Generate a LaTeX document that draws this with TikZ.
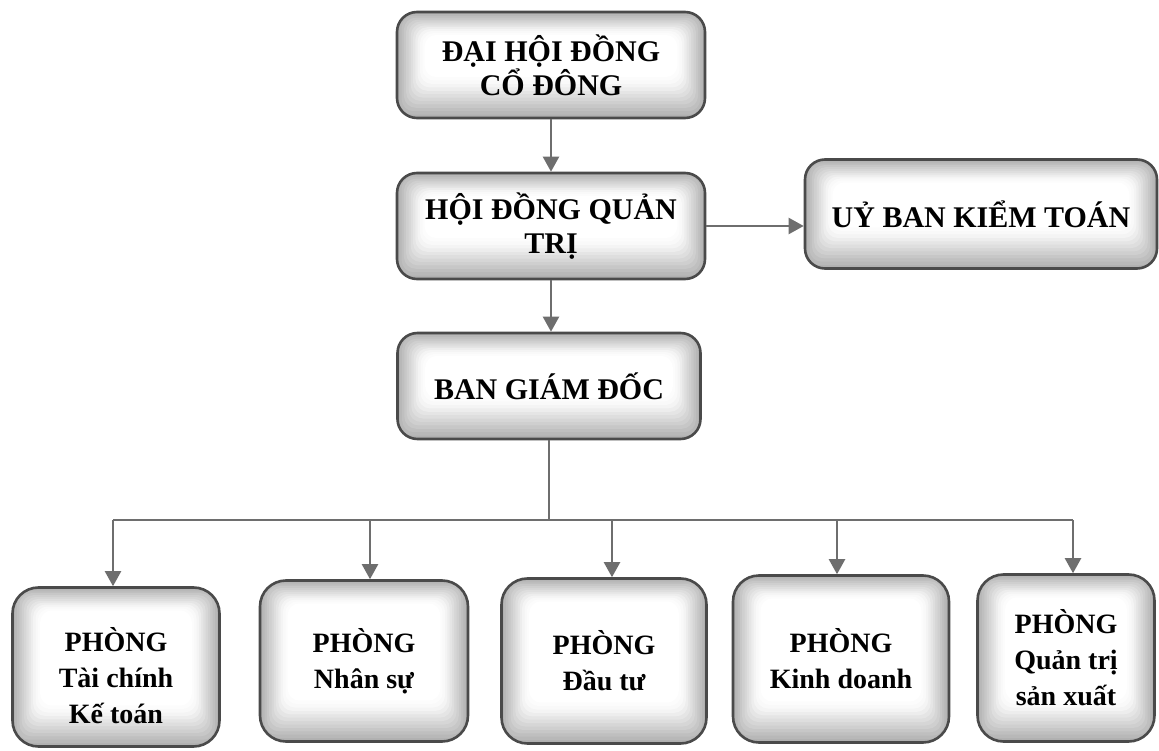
\documentclass[tikz,border=0pt]{standalone}
\usepackage{fontspec}
\setmainfont{Liberation Serif}
\usetikzlibrary{arrows.meta}
\definecolor{edgec}{HTML}{4A4A4A}
\definecolor{connc}{HTML}{6E6E6E}
\tikzset{
  orgbox/.style={draw=edgec, line width=2.6pt, rounded corners=#1, fill=gray!62,
    align=center, inner sep=0pt,
    path picture={
      \foreach \k/\c in {1/56,2/50,3/44,4/38,5/32,6/26,7/20,8/14,9/9,10/5,11/2,12/0}{
        \fill[gray!\c, rounded corners=12pt]
          ([shift={(\k*2.3pt,\k*3.4pt)}]path picture bounding box.south west) rectangle
          ([shift={(-\k*2.3pt,-\k*1.9pt)}]path picture bounding box.north east);
      }
    }},
  orgbox/.default=20pt,
  toptxt/.style={font=\fontsize{30}{34}\selectfont\bfseries},
  deptxt/.style={font=\fontsize{28}{36}\selectfont\bfseries},
  conn/.style={draw=connc, line width=2.2pt},
  arr/.style={conn, -{Triangle[length=15pt,width=16pt]}},
}
\begin{document}
\begin{tikzpicture}[x=1pt,y=-1pt]
\useasboundingbox[fill=white] (0,0) rectangle (1159,751);
% top boxes
\node[orgbox, toptxt, minimum width=308pt, minimum height=106pt] (dhd) at (551,65) {ĐẠI HỘI ĐỒNG\\CỔ ĐÔNG};
\node[orgbox, toptxt, minimum width=308pt, minimum height=106pt] (hdqt) at (551,226) {HỘI ĐỒNG QUẢN\\TRỊ};
\node[orgbox, toptxt, minimum width=352pt, minimum height=109pt] (ubkt) at (981,214) {UỶ BAN KIỂM TOÁN};
\node[orgbox, toptxt, minimum width=303pt, minimum height=106pt] (bgd) at (549,386) {BAN GIÁM ĐỐC};
% departments
\node[orgbox=26pt, deptxt, minimum width=207pt, minimum height=159pt] (tckt) at (116,667) {\\[6pt]PHÒNG\\Tài chính\\Kế toán};
\node[orgbox=26pt, deptxt, minimum width=208pt, minimum height=161pt] (ns) at (364,661) {PHÒNG\\Nhân sự};
\node[orgbox=26pt, deptxt, minimum width=205pt, minimum height=165pt] (dt) at (604,661) {PHÒNG\\Đầu tư};
\node[orgbox=26pt, deptxt, minimum width=216pt, minimum height=167pt] (kd) at (841,659) {PHÒNG\\Kinh doanh};
\node[orgbox=26pt, deptxt, minimum width=177pt, minimum height=167pt] (qtsx) at (1066,658) {PHÒNG\\Quản trị\\sản xuất};
% connectors
\draw[arr] (dhd.south) -- (dhd.south |- hdqt.north);
\draw[arr] (hdqt.south) -- (hdqt.south |- bgd.north);
\draw[arr] (hdqt.east) -- (hdqt.east -| ubkt.west);
\coordinate (bus) at (549,520);
\coordinate (b1) at (113,520);
\coordinate (b2) at (370,520);
\coordinate (b3) at (612,520);
\coordinate (b4) at (837,520);
\coordinate (b5) at (1073,520);
\draw[conn] (bgd.south) -- (bgd.south |- bus);
\draw[conn] (b1) -- (b5);
\draw[arr] (b1) -- (b1 |- tckt.north);
\draw[arr] (b2) -- (b2 |- ns.north);
\draw[arr] (b3) -- (b3 |- dt.north);
\draw[arr] (b4) -- (b4 |- kd.north);
\draw[arr] (b5) -- (b5 |- qtsx.north);
\end{tikzpicture}
\end{document}
